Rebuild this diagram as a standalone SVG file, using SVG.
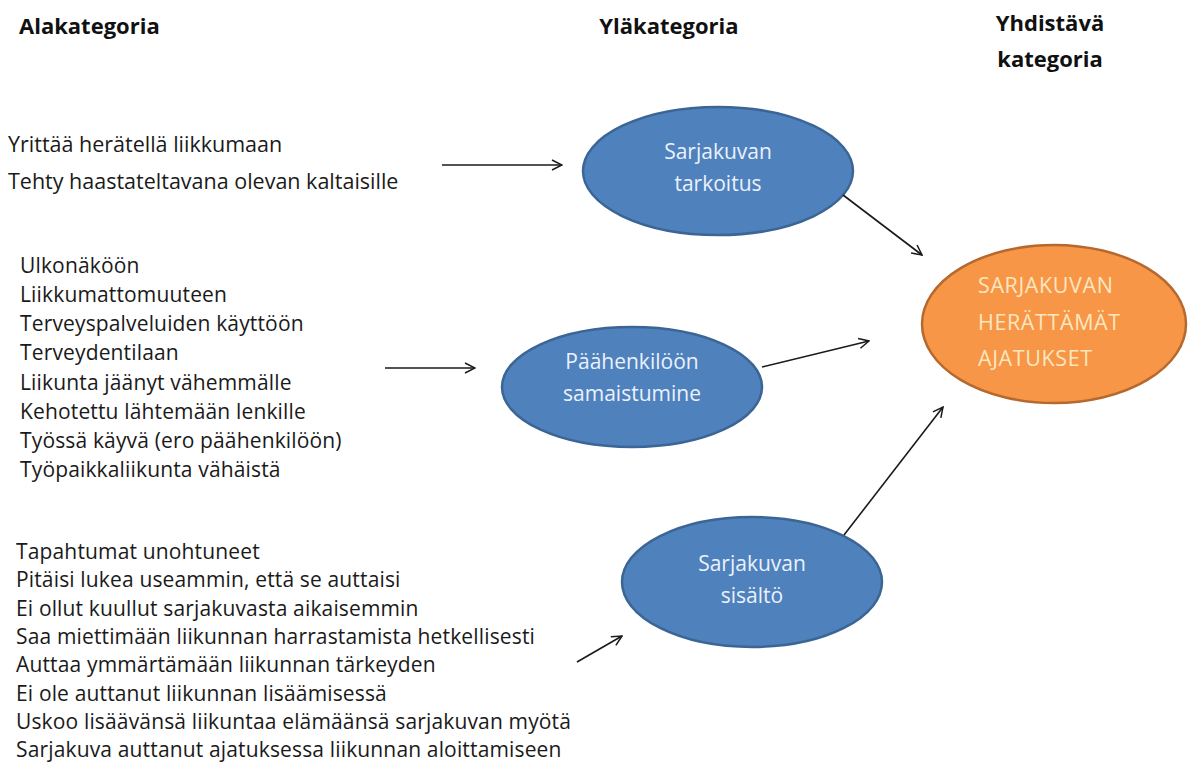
<svg xmlns="http://www.w3.org/2000/svg" width="1193" height="772" viewBox="0 0 1193 772">
<defs>
<style>
.hdr{font-family:"Open Sans","Liberation Sans",sans-serif;font-weight:bold;font-size:22px;fill:#111}
.lst{font-family:"Open Sans","Liberation Sans",sans-serif;font-size:21px;letter-spacing:0.15px;fill:#1a1a1a}
.lst1{font-size:21.5px;letter-spacing:0}
.blue{fill:#4F81BD;stroke:#3A6594;stroke-width:2.5}
.orange{fill:#F79646;stroke:#B5692E;stroke-width:2.5}
.bt{font-family:"Open Sans","Liberation Sans",sans-serif;font-size:21px;fill:#EAF1FB;text-anchor:middle}
.ot{font-family:"Open Sans","Liberation Sans",sans-serif;font-size:21.5px;fill:#FCE6C0;letter-spacing:0.6px}
.con{stroke:#1a1a1a;stroke-width:1.6;fill:none;marker-end:url(#arr)}
</style>
<marker id="arr" viewBox="0 0 12 12" refX="11" refY="6" markerWidth="12" markerHeight="12" markerUnits="userSpaceOnUse" orient="auto">
<path d="M1,1 L11,6 L1,11" fill="none" stroke="#1a1a1a" stroke-width="1.5"/>
</marker>
</defs>
<rect width="1193" height="772" fill="#ffffff"/>

<g id="headers">
<text class="hdr" x="19" y="34">Alakategoria</text>
<text class="hdr" x="669" y="34" text-anchor="middle">Yläkategoria</text>
<text class="hdr" x="1050" y="31" text-anchor="middle">Yhdistävä</text>
<text class="hdr" x="1050" y="67" text-anchor="middle">kategoria</text>
</g>

<g id="list-tarkoitus">
<text class="lst lst1" x="8" y="152">Yrittää herätellä liikkumaan</text>
<text class="lst lst1" x="8" y="189">Tehty haastateltavana olevan kaltaisille</text>
</g>

<g id="list-samaistuminen">
<text class="lst" x="20" y="273">Ulkonäköön</text>
<text class="lst" x="20" y="302">Liikkumattomuuteen</text>
<text class="lst" x="20" y="331">Terveyspalveluiden käyttöön</text>
<text class="lst" x="20" y="360">Terveydentilaan</text>
<text class="lst" x="20" y="390">Liikunta jäänyt vähemmälle</text>
<text class="lst" x="20" y="419">Kehotettu lähtemään lenkille</text>
<text class="lst" x="20" y="448">Työssä käyvä (ero päähenkilöön)</text>
<text class="lst" x="20" y="477">Työpaikkaliikunta vähäistä</text>
</g>

<g id="list-sisalto">
<text class="lst" x="16" y="559">Tapahtumat unohtuneet</text>
<text class="lst" x="16" y="587">Pitäisi lukea useammin, että se auttaisi</text>
<text class="lst" x="16" y="616">Ei ollut kuullut sarjakuvasta aikaisemmin</text>
<text class="lst" x="16" y="644">Saa miettimään liikunnan harrastamista hetkellisesti</text>
<text class="lst" x="16" y="672">Auttaa ymmärtämään liikunnan tärkeyden</text>
<text class="lst" x="16" y="701">Ei ole auttanut liikunnan lisäämisessä</text>
<text class="lst" x="16" y="729">Uskoo lisäävänsä liikuntaa elämäänsä sarjakuvan myötä</text>
<text class="lst" x="16" y="757">Sarjakuva auttanut ajatuksessa liikunnan aloittamiseen</text>
</g>

<g id="node-tarkoitus">
<ellipse class="blue" cx="718" cy="171" rx="135" ry="64"/>
<text class="bt" x="718" y="159">Sarjakuvan</text>
<text class="bt" x="718" y="191">tarkoitus</text>
</g>

<g id="node-samaistuminen">
<ellipse class="blue" cx="632" cy="387" rx="130" ry="60"/>
<text class="bt" x="632" y="369">Päähenkilöön</text>
<text class="bt" x="632" y="401">samaistumine</text>
</g>

<g id="node-sisalto">
<ellipse class="blue" cx="752" cy="582" rx="130" ry="65"/>
<text class="bt" x="752" y="571">Sarjakuvan</text>
<text class="bt" x="752" y="603">sisältö</text>
</g>

<g id="node-ajatukset">
<ellipse class="orange" cx="1054" cy="324" rx="132" ry="79"/>
<text class="ot" x="978" y="293">SARJAKUVAN</text>
<text class="ot" x="978" y="330">HERÄTTÄMÄT</text>
<text class="ot" x="978" y="366">AJATUKSET</text>
</g>

<g id="connectors">
<line class="con" x1="442" y1="165" x2="562" y2="165"/>
<line class="con" x1="385" y1="368" x2="475" y2="368"/>
<line class="con" x1="577" y1="662" x2="622" y2="636"/>
<line class="con" x1="843" y1="195" x2="922" y2="255"/>
<line class="con" x1="762" y1="367" x2="869" y2="341"/>
<line class="con" x1="844" y1="535" x2="943" y2="407"/>
</g>
</svg>
